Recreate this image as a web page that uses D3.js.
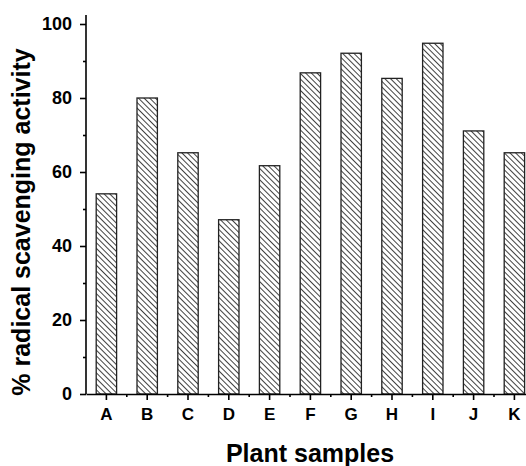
<!DOCTYPE html>
<html>
<head>
<meta charset="utf-8">
<script src="https://cdn.jsdelivr.net/npm/d3@7"></script>
<style>
  body { margin: 0; background: #fff; }
  svg { display: block; }
  text { font-family: "Liberation Sans", Arial, sans-serif; font-weight: bold; }
</style>
</head>
<body>
<svg width="526" height="466"></svg>
<script>
// data
var samples = ["A", "B", "C", "D", "E", "F", "G", "H", "I", "J", "K"];
var activity = [54.1, 80.0, 65.2, 47.1, 61.7, 86.8, 92.1, 85.3, 94.8, 71.1, 65.2];
var majorTicks = [0, 20, 40, 60, 80, 100];
var minorTicks = [10, 30, 50, 70, 90];

var svg = d3.select("svg"),
    width = +svg.attr("width"),
    height = +svg.attr("height");

var margin = {left: 86, top: 24, bottom: 394};
var step = 40.8;
var fontFam = "Liberation Sans, Arial, sans-serif";

// hatch pattern for bars
var defs = svg.append("defs");
var pat = defs.append("pattern")
    .attr("id", "hatch")
    .attr("patternUnits", "userSpaceOnUse")
    .attr("width", 4)
    .attr("height", 4)
    .attr("patternTransform", "rotate(-45)");
pat.append("rect").attr("width", 4).attr("height", 4).attr("fill", "#fff");
pat.append("line")
    .attr("x1", 0).attr("y1", 0)
    .attr("x2", 0).attr("y2", 4)
    .attr("stroke", "#111")
    .attr("stroke-width", 1.6);

var x = d3.scaleBand()
    .domain(samples)
    .range([margin.left, margin.left + step * samples.length])
    .paddingInner(0.5)
    .paddingOuter(0.25);

var y = d3.scaleLinear()
    .domain([0, 100])
    .range([margin.bottom, margin.top]);

// bars
svg.append("g").selectAll("rect")
  .data(samples)
  .enter().append("rect")
    .attr("x", function(d) { return x(d); })
    .attr("y", function(d, i) { return y(activity[i]); })
    .attr("width", x.bandwidth())
    .attr("height", function(d, i) { return y(0) - y(activity[i]); })
    .attr("fill", "url(#hatch)")
    .attr("stroke", "#222")
    .attr("stroke-width", 1.3);

// y axis
var yAxis = svg.append("g")
    .attr("transform", "translate(" + margin.left + ",0)")
    .call(d3.axisLeft(y).tickValues(majorTicks).tickSize(6).tickPadding(8).tickSizeOuter(0));
yAxis.select(".domain").attr("stroke-width", 1.6).attr("d", "M0," + (margin.top - 9) + "V" + margin.bottom);
yAxis.selectAll(".tick line").attr("stroke-width", 1.6);
yAxis.selectAll(".tick text").attr("font-size", 18).attr("font-family", fontFam).attr("font-weight", "bold");

var yMinor = svg.append("g")
    .attr("transform", "translate(" + margin.left + ",0)")
    .call(d3.axisLeft(y).tickValues(minorTicks).tickSize(3).tickFormat(""));
yMinor.select(".domain").remove();
yMinor.selectAll(".tick line").attr("stroke-width", 1.6);

// x axis
var xAxis = svg.append("g")
    .attr("transform", "translate(0," + margin.bottom + ")")
    .call(d3.axisBottom(x).tickSize(6).tickPadding(8).tickSizeOuter(0));
xAxis.select(".domain").attr("stroke-width", 1.6);
xAxis.selectAll(".tick line").attr("stroke-width", 1.6);
xAxis.selectAll(".tick text").attr("font-size", 17).attr("font-family", fontFam).attr("font-weight", "bold");

// minor x ticks between categories
var bounds = samples.slice(1).map(function(d) { return x(d) + x.bandwidth() / 2 - step / 2; });
svg.append("g").selectAll("line")
  .data(bounds)
  .enter().append("line")
    .attr("x1", function(d) { return d; })
    .attr("x2", function(d) { return d; })
    .attr("y1", margin.bottom)
    .attr("y2", margin.bottom + 3)
    .attr("stroke", "#000")
    .attr("stroke-width", 1.6);

// axis titles
svg.append("text")
    .attr("x", 310)
    .attr("y", 462)
    .attr("text-anchor", "middle")
    .attr("font-size", 25)
    .text("Plant samples");

svg.append("text")
    .attr("transform", "translate(30,222) rotate(-90)")
    .attr("text-anchor", "middle")
    .attr("font-size", 25)
    .text("% radical scavenging activity");
</script>
</body>
</html>
